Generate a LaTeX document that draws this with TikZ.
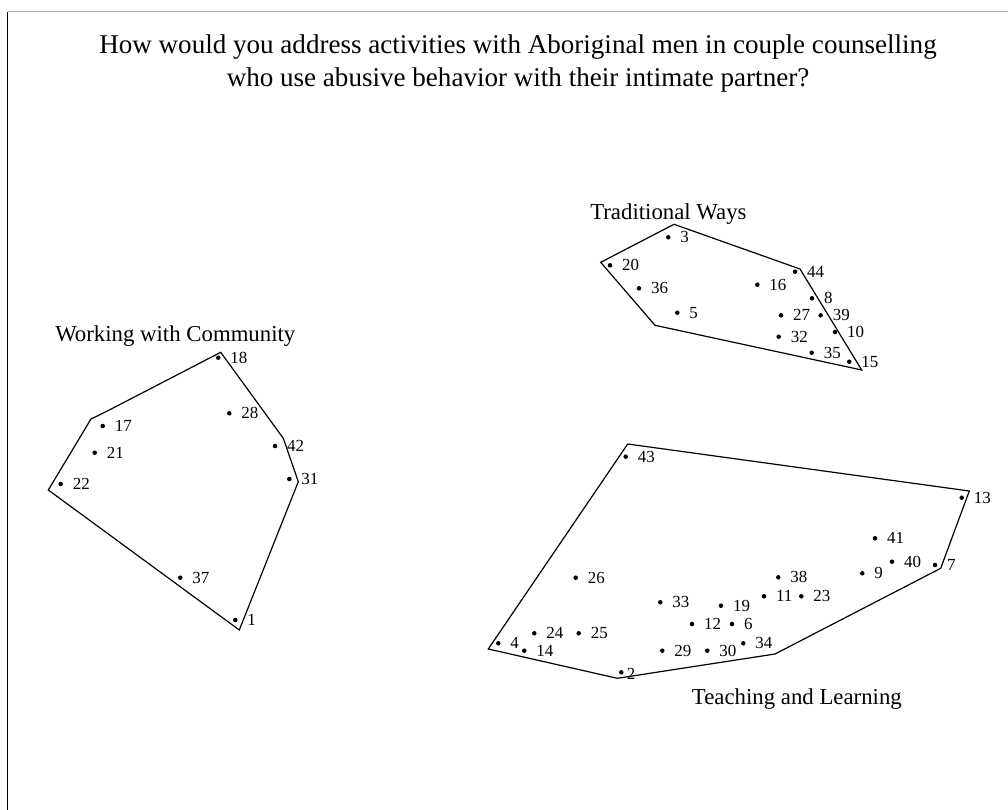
\documentclass[tikz,border=0pt]{standalone}
\usepackage{fontspec}
\setmainfont{Liberation Serif}
\usetikzlibrary{positioning}

\begin{document}
\begin{tikzpicture}[x=0.75pt, y=-0.75pt,
  hull/.style={black, line width=0.9pt, line join=miter},
  pt/.style={circle, fill=black, inner sep=0pt, minimum size=3.4pt},
  numlbl/.style={inner sep=0pt, font=\fontsize{12.7}{14}\selectfont},
  grouplbl/.style={inner sep=0pt, anchor=base west, font=\fontsize{17.1}{20}\selectfont},
  titlelbl/.style={inner sep=0pt, anchor=base, font=\fontsize{20.3}{24}\selectfont}]
\useasboundingbox (0,0) rectangle (1008,810);

% frame
\draw[gray!60, line width=0.9pt] (7.5,11.7) -- (1008,11.7);
\draw[black, line width=0.9pt] (7.5,11.7) -- (7.5,810);

\node[titlelbl] (title1) at (518,53) {How would you address activities with Aboriginal men in couple counselling};
\node[titlelbl] (title2) at (518,86.7) {who use abusive behavior with their intimate partner?};

% Working with Community
\node[grouplbl] (community) at (55,341.7) {Working with Community};
\draw[hull] (220.7,352.3) -- (283.3,438.3) -- (298.3,481.7) -- (239.3,630) -- (48.3,490) -- (91,419) -- (106,411.7) -- cycle;
\foreach \n/\x/\y in {18/218.3/357.7, 28/229.3/413.3, 17/102.7/426, 21/94.7/452.7, 42/275/446,
                      22/60.7/484, 31/289.3/479, 37/180.3/577.7, 1/235.3/620} {
 \node[pt] (p\n) at (\x,\y) {};
 \node[numlbl, right=7pt of p\n] (t\n) {\n};
}

% Traditional Ways
\node[grouplbl] (traditional) at (590,219) {Traditional Ways};
\draw[hull] (674,224.3) -- (800,269) -- (861.7,370) -- (655,325.3) -- (600.7,262.3) -- cycle;
\foreach \n/\x/\y in {3/668.3/237.3, 20/610/265.3, 36/639/288.3, 5/677.3/312.7, 16/757.3/284.7,
                      44/795/271.7, 8/812/298.3, 27/781/315.3, 39/820.7/315.3, 10/835/332,
                      32/778.7/336.7, 35/811.7/352.7, 15/849.3/361.7} {
 \node[pt] (p\n) at (\x,\y) {};
 \node[numlbl, right=7pt of p\n] (t\n) {\n};
}

% Teaching and Learning
\node[grouplbl] (teaching) at (691.7,704.3) {Teaching and Learning};
\draw[hull] (627.7,444) -- (969.3,491) -- (940.7,568.3) -- (775,654) -- (617.3,678.3) -- (488.3,649) -- cycle;
\foreach \n/\x/\y in {43/625.7/456.7, 13/961.7/497.7, 41/875/538.3, 40/892/561.7, 7/935/565,
                      9/862.3/573.3, 26/575.7/577.7, 38/778.3/577.3, 11/764/596.3, 23/801.3/596.3,
                      33/660.3/602.3, 19/721/605.7, 12/692/624, 6/732/624, 24/534.3/633.3,
                      25/578.7/633.3, 4/498.3/643.3, 14/524.3/650.7, 34/743.3/643.3,
                      29/662.3/650.7, 30/707.3/650.7} {
 \node[pt] (p\n) at (\x,\y) {};
 \node[numlbl, right=7pt of p\n] (t\n) {\n};
}
\node[pt] (p2) at (621.3,672.3) {};
\node[numlbl, right=2pt of p2, yshift=-1.5pt] (t2) {2};
\end{tikzpicture}
\end{document}
